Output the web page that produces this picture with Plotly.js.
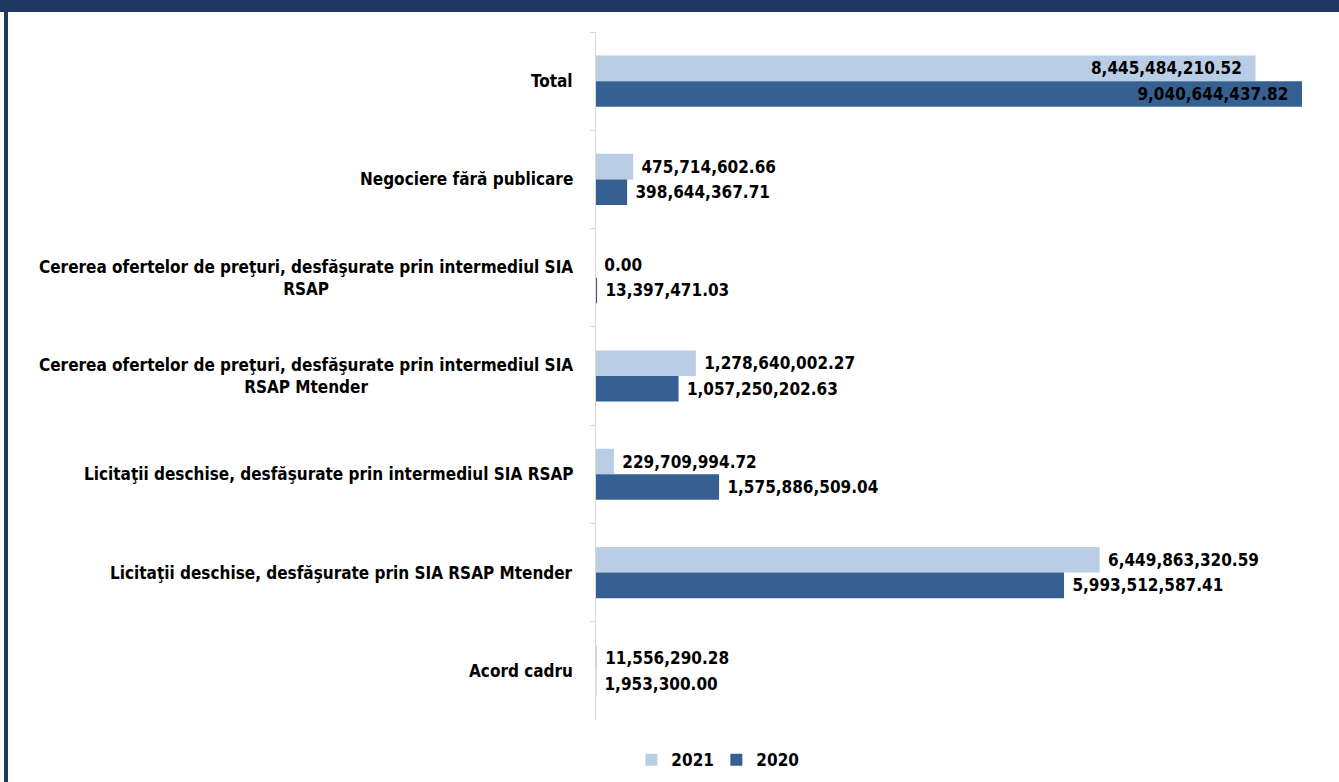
<!DOCTYPE html>
<html>
<head>
<meta charset="utf-8">
<script src="https://cdn.plot.ly/plotly-3.0.1.min.js"></script>
<style>
  html, body { margin:0; padding:0; background:#fff; }
  #wrap { position:relative; width:1339px; height:782px; overflow:hidden; }
  #topband { position:absolute; left:0; top:0; width:1339px; height:12px; background:#203864; }
  #leftline { position:absolute; left:4px; top:12px; width:4px; height:770px; background:#203864; }
  #chart { position:absolute; left:0; top:0; width:1339px; height:782px; }
</style>
</head>
<body>
<div id="wrap">
  <div id="chart"></div>
  <div id="topband"></div>
  <div id="leftline"></div>
</div>
<script>
const categories = [
  "Total",
  "Negociere fără publicare",
  "Cererea ofertelor de preţuri, desfăşurate prin intermediul SIA<br>RSAP",
  "Cererea ofertelor de preţuri, desfăşurate prin intermediul SIA<br>RSAP Mtender",
  "Licitaţii deschise, desfăşurate prin intermediul SIA RSAP",
  "Licitaţii deschise, desfăşurate prin SIA RSAP Mtender",
  "Acord cadru"
];
const values2021 = [8445484210.52, 475714602.66, 0.00, 1278640002.27, 229709994.72, 6449863320.59, 11556290.28];
const values2020 = [9040644437.82, 398644367.71, 13397471.03, 1057250202.63, 1575886509.04, 5993512587.41, 1953300.00];
const seriesNames = ["2021", "2020"];

const FONT = "'Liberation Sans Narrow', 'DejaVu Sans Condensed', 'Arial Narrow', sans-serif";
const NB = '\u00a0';
const pos = categories.map((c, i) => i === 0 ? 'inside' : 'outside');
const tmpl = categories.map((c, i) => i === 0 ? '%{x:,.2f}' + NB + NB : NB + '%{x:,.2f}');

const common = {
  type: 'bar',
  orientation: 'h',
  y: categories,
  texttemplate: tmpl,
  textposition: pos,
  insidetextanchor: 'end',
  constraintext: 'none',
  cliponaxis: false,
  textfont: {family: FONT, size: 17, color: '#000', weight: 'bold'},
  insidetextfont: {family: FONT, size: 17, color: '#000', weight: 'bold'},
  outsidetextfont: {family: FONT, size: 17, color: '#000', weight: 'bold'},
  hoverinfo: 'none'
};

const traces = [
  Object.assign({}, common, {name: seriesNames[0], x: values2021, marker: {color: '#b9cde5'}}),
  Object.assign({}, common, {name: seriesNames[1], x: values2020, marker: {color: '#376092'}})
];

const annotations = categories.map(c => ({
  text: c,
  xref: 'paper', x: -21 / 724, xanchor: 'right',
  yref: 'y', y: c, yanchor: 'middle',
  align: 'center',
  showarrow: false,
  font: {family: FONT, size: 17, color: '#000', weight: 'bold'}
}));

const layout = {
  width: 1339, height: 782,
  margin: {l: 596, r: 19, t: 32, b: 62},
  paper_bgcolor: '#fff', plot_bgcolor: '#fff',
  barmode: 'group',
  bargap: 0.48,
  bargroupgap: 0,
  font: {family: FONT, size: 17, color: '#000'},
  xaxis: {
    range: [0, 9271000000],
    visible: false,
    showgrid: false, zeroline: false
  },
  yaxis: {
    type: 'category',
    autorange: 'reversed',
    showline: true, linecolor: '#d9d9d9', linewidth: 1,
    ticks: 'outside', tickson: 'boundaries', ticklen: 5, tickcolor: '#d9d9d9',
    showticklabels: false,
    showgrid: false, zeroline: false
  },
  annotations: annotations,
  showlegend: true,
  legend: {
    orientation: 'h',
    xref: 'container', yref: 'container',
    x: 0.535, xanchor: 'center',
    y: 0.028, yanchor: 'middle',
    font: {family: FONT, size: 17, color: '#000', weight: 'bold'},
    itemwidth: 30,
    entrywidth: 40,
    traceorder: 'normal'
  }
};

Plotly.newPlot('chart', traces, layout, {displayModeBar: false, staticPlot: true});
</script>
</body>
</html>
